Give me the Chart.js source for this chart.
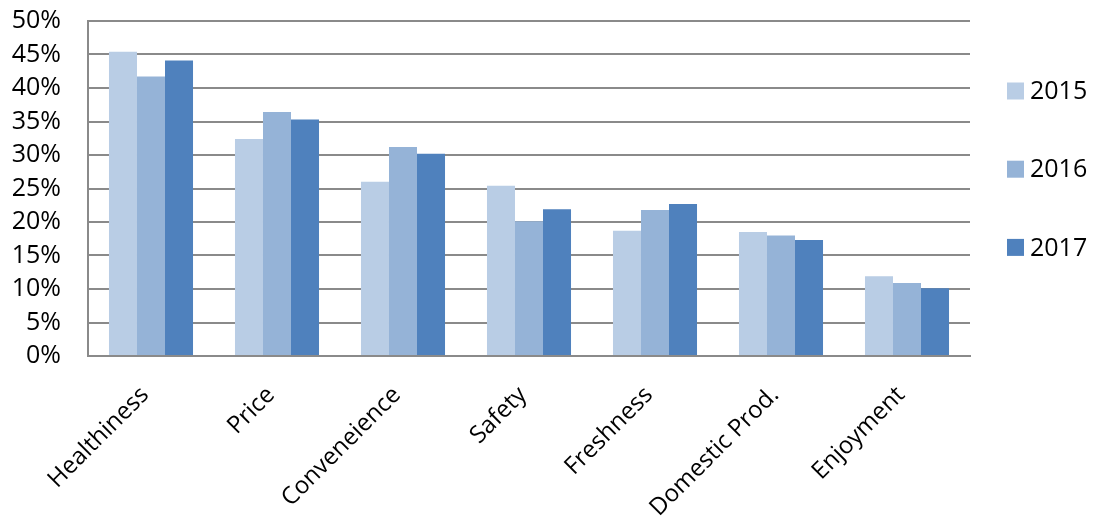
<!DOCTYPE html>
<html>
<head>
<meta charset="utf-8">
<script src="https://cdn.jsdelivr.net/npm/chart.js@4/dist/chart.umd.min.js"></script>
<style>
  html, body { margin: 0; padding: 0; background: #fff; }
  #wrap { width: 1094px; height: 520px; position: relative; }
</style>
</head>
<body>
<div id="wrap"><canvas id="c" width="1094" height="520"></canvas></div>
<script>
const categories = ['Healthiness', 'Price', 'Conveneience', 'Safety', 'Freshness', 'Domestic Prod.', 'Enjoyment'];
const years = ['2015', '2016', '2017'];
const values2015 = [45.4, 32.4, 26.0, 25.4, 18.7, 18.5, 11.9];
const values2016 = [41.7, 36.4, 31.2, 20.1, 21.8, 18.0, 10.9];
const values2017 = [44.1, 35.3, 30.2, 21.9, 22.7, 17.3, 10.1];
const yTicks = [0, 5, 10, 15, 20, 25, 30, 35, 40, 45, 50];

const colors = ['#B9CDE5', '#95B3D7', '#4F81BD'];
const FONT = '"Open Sans", sans-serif';
const FONT_SIZE = 25;

// Legend drawn on the right side, one entry per series, spaced out vertically
const sideLegend = {
  id: 'sideLegend',
  afterDraw(chart) {
    const ctx = chart.ctx;
    ctx.save();
    ctx.font = FONT_SIZE + 'px ' + FONT;
    ctx.textBaseline = 'middle';
    ctx.textAlign = 'left';
    chart.data.datasets.forEach((ds, i) => {
      const cy = 91 + i * 78.2;
      ctx.fillStyle = ds.backgroundColor;
      ctx.fillRect(1007, cy - 8.5, 17, 17);
      ctx.fillStyle = '#000';
      ctx.fillText(ds.label, 1030, cy + 1);
    });
    ctx.restore();
  }
};

new Chart(document.getElementById('c'), {
  type: 'bar',
  data: {
    labels: categories,
    datasets: [
      { label: years[0], data: values2015, backgroundColor: colors[0] },
      { label: years[1], data: values2016, backgroundColor: colors[1] },
      { label: years[2], data: values2017, backgroundColor: colors[2] }
    ]
  },
  options: {
    responsive: false,
    animation: false,
    devicePixelRatio: 1,
    layout: { padding: { top: 21, right: 124, left: 0, bottom: 0 } },
    datasets: { bar: { categoryPercentage: 0.667, barPercentage: 1.0 } },
    plugins: {
      legend: { display: false },
      tooltip: { enabled: false }
    },
    scales: {
      x: {
        grid: { display: false, drawTicks: false },
        border: { display: true, color: '#8a8a8a', width: 2 },
        ticks: {
          color: '#000',
          font: { family: FONT, size: 24 },
          minRotation: 45,
          maxRotation: 45,
          padding: 25,
          labelOffset: -6,
          autoSkip: false
        },
        afterFit(scale) { scale.height = 164; }
      },
      y: {
        min: 0,
        max: 50,
        afterBuildTicks(scale) { scale.ticks = yTicks.map(v => ({ value: v })); },
        grid: { color: '#8a8a8a', lineWidth: 2, drawTicks: false },
        border: { display: true, color: '#8a8a8a', width: 2 },
        ticks: {
          color: '#000',
          font: { family: FONT, size: FONT_SIZE },
          padding: 27,
          autoSkip: false,
          callback: v => v + '%'
        },
        afterFit(scale) {
          scale.width = 88;
          scale.paddingTop = 0;
          scale.paddingBottom = 0;
        }
      }
    }
  },
  plugins: [sideLegend]
});
</script>
</body>
</html>
